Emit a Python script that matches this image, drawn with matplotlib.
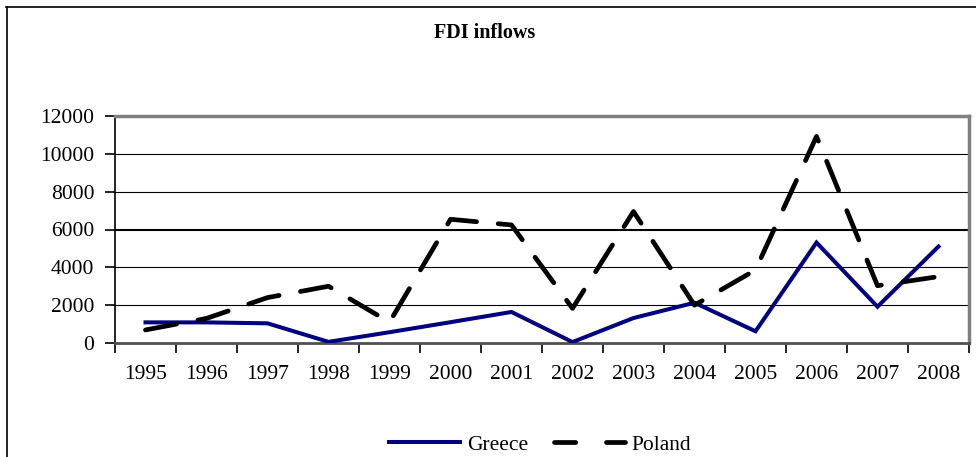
import matplotlib
matplotlib.use("Agg")
import matplotlib.pyplot as plt
from matplotlib.lines import Line2D

plt.rcParams["font.family"] = ["Liberation Serif", "DejaVu Serif"]

YEARS = ["1995", "1996", "1997", "1998", "1999", "2000", "2001",
         "2002", "2003", "2004", "2005", "2006", "2007", "2008"]
GREECE = [1090, 1090, 1040, 60, 570, 1100, 1640,
          50, 1320, 2130, 620, 5310, 1920, 5100]
POLAND = [690, 1300, 2400, 3000, 1100, 6540, 6240,
          1830, 6950, 2000, 3860, 10920, 3030, 3510]
Y_TICKS = [0, 2000, 4000, 6000, 8000, 10000, 12000]

W, H = 976, 457
fig = plt.figure(figsize=(W / 100, H / 100), dpi=100)
ax = fig.add_axes([115 / W, 1 - 343 / H, 854 / W, 227 / H])

x = list(range(len(YEARS)))

# horizontal grid, 6000 drawn heavier as in the source
for v in Y_TICKS[1:-1]:
    ax.axhline(v, color="black", lw=1.5 if v == 6000 else 0.8, zorder=1)

ax.plot(x, GREECE, color="#000080", lw=2.9, solid_joinstyle="miter",
        label="Greece", zorder=3)
ax.plot(x, POLAND, color="black", lw=3.4, dashes=(6.7, 4.6),
        dash_capstyle="round", label="Poland", zorder=3)

ax.set_xlim(-0.5, len(YEARS) - 0.5)
ax.set_ylim(0, 12000)
ax.set_yticks(Y_TICKS)
ax.set_yticklabels([str(v) for v in Y_TICKS])
ax.set_xticks(x)
ax.set_xticklabels(YEARS)
ax.set_xticks([i - 0.5 for i in range(len(YEARS) + 1)], minor=True)
ax.tick_params(axis="x", which="major", length=0, pad=16, labelsize=15.5)
ax.tick_params(axis="x", which="minor", length=7, width=1.2,
               direction="out", color="black")
ax.tick_params(axis="y", length=7, width=1.2, pad=8, labelsize=15.5)

for side in ("top", "right"):
    ax.spines[side].set_color("#808080")
    ax.spines[side].set_linewidth(2.5)
ax.spines["left"].set_color("black")
ax.spines["left"].set_linewidth(1.2)
ax.spines["bottom"].set_color("#505050")
ax.spines["bottom"].set_linewidth(2.0)

fig.text(485 / W, 1 - 33 / H, "FDI inflows", ha="center", va="center",
         fontsize=14.5, fontweight="bold")

handles = [Line2D([0], [0], color="#000080", lw=2.9),
           Line2D([0], [0], color="black", lw=3.4, dashes=(4.5, 6.5),
                  dash_capstyle="round")]
fig.legend(handles, ["Greece", "Poland"], loc="center",
           bbox_to_anchor=(540 / W, 1 - 445 / H), ncol=2, frameon=False,
           fontsize=15.5, handlelength=3.3, handletextpad=0.3,
           columnspacing=1.2)

# chart border (cut off at the right and bottom in the source)
fig.add_artist(Line2D([6.5 / W, 6.5 / W], [0, 1 - 7 / H], color="black",
                      lw=1.2, transform=fig.transFigure))
fig.add_artist(Line2D([6 / W, 1], [1 - 7 / H, 1 - 7 / H], color="black",
                      lw=1.2, transform=fig.transFigure))

fig.savefig("out.png", dpi=100)
